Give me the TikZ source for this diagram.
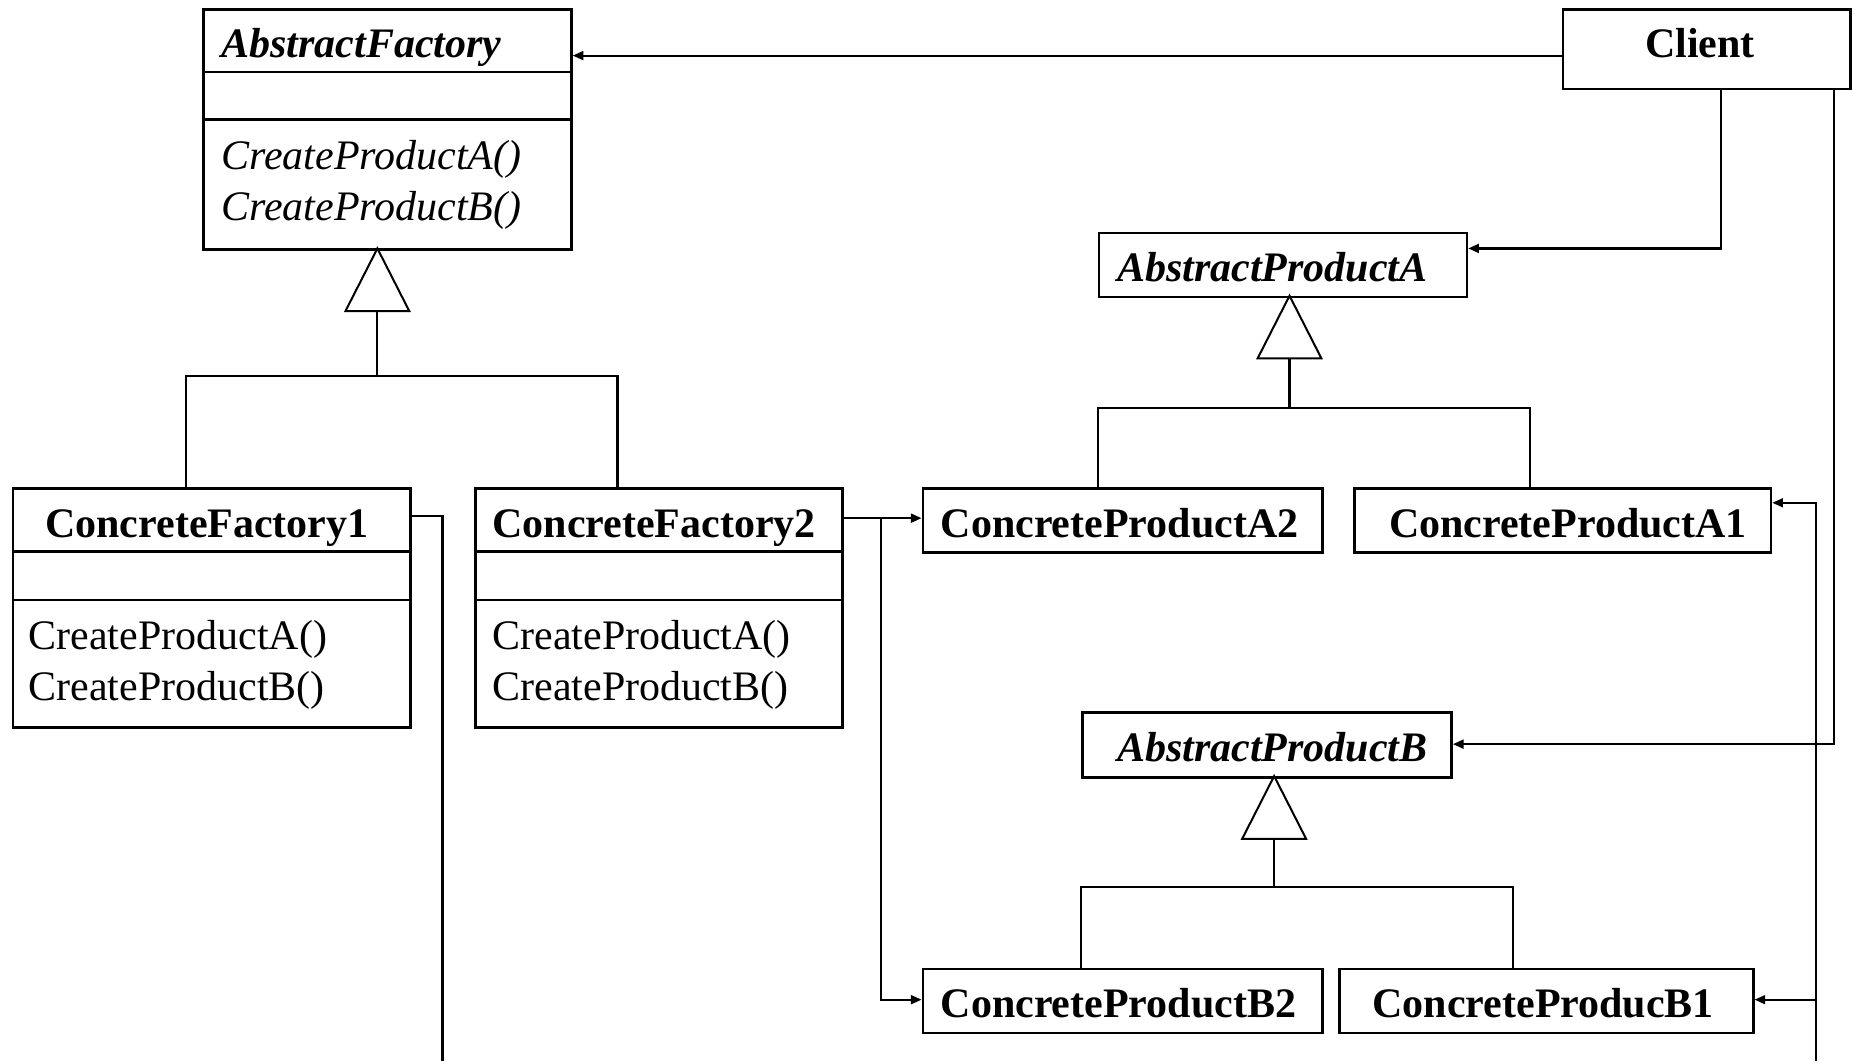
\documentclass[tikz,border=0pt]{standalone}
\usepackage{fontspec}
\setmainfont{Liberation Serif}
\usetikzlibrary{arrows.meta,calc}

\tikzset{
  box/.style={draw, line width=2.1pt, inner sep=0pt, anchor=north west, minimum width=#1},
  sep/.style={line width=2.1pt},
  wire/.style={line width=1.8pt},
  link/.style={wire, -{Triangle[length=9pt,width=7.5pt]}},
  gen/.style={line width=1.7pt, fill=white, line join=miter},
  txt/.style={inner sep=0pt, anchor=base west, font=\fontsize{35.5}{40}\selectfont},
  bold/.style={txt, font=\fontsize{35.5}{40}\selectfont\bfseries},
  bolditalic/.style={txt, font=\fontsize{35.5}{40}\selectfont\bfseries\itshape},
  ital/.style={txt, font=\fontsize{35.5}{40}\selectfont\itshape},
}

\begin{document}
\begin{tikzpicture}[x=1pt, y=-1pt]
\useasboundingbox (0,0) rectangle (1568,897);

% ---- class boxes ----
\node[box=311pt, minimum height=203pt] (af)   at (171,7)   {};
\node[box=243pt, minimum height=67pt]  (cl)   at (1320,7)  {};
\node[box=311pt, minimum height=54pt]  (apa)  at (928,196) {};
\node[box=336pt, minimum height=202pt] (cf1)  at (10,412)  {};
\node[box=310pt, minimum height=202pt] (cf2)  at (401,412) {};
\node[box=338pt, minimum height=54pt]  (cpa2) at (779,412) {};
\node[box=352pt, minimum height=54pt]  (cpa1) at (1144,412) {};
\node[box=312pt, minimum height=55pt]  (apb)  at (914,601) {};
\node[box=338pt, minimum height=54pt]  (cpb2) at (779,818) {};
\node[box=350pt, minimum height=54pt]  (cpb1) at (1131,818) {};

% compartment separators
\foreach \n/\a/\b in {af/61/101, cf1/466/507, cf2/466/507}{
  \draw[sep] (\n.west |- 0,\a) -- (\n.east |- 0,\a);
  \draw[sep] (\n.west |- 0,\b) -- (\n.east |- 0,\b);
}

% ---- texts ----
\node[bolditalic] (t-af)  at (187,49)  {AbstractFactory};
\node[ital]       (t-af1) at (187,143) {CreateProductA()};
\node[ital]       (t-af2) at (187,186) {CreateProductB()};
\node[bold, anchor=base] (t-cl) at (1437,49) {Client};
\node[bolditalic] (t-apa) at (944,238) {AbstractProductA};
\node[bold]       (t-cf1) at (38,454)  {ConcreteFactory1};
\node[txt]        (t-cf1a) at (24,549) {CreateProductA()};
\node[txt]        (t-cf1b) at (24,592) {CreateProductB()};
\node[bold]       (t-cf2) at (416,454) {ConcreteFactory2};
\node[txt]        (t-cf2a) at (416,549) {CreateProductA()};
\node[txt]        (t-cf2b) at (416,592) {CreateProductB()};
\node[bold]       (t-cpa2) at (795,454) {ConcreteProductA2};
\node[bold]       (t-cpa1) at (1174,454) {ConcreteProductA1};
\node[bolditalic] (t-apb) at (944,644)  {AbstractProductB};
\node[bold]       (t-cpb2) at (795,860) {ConcreteProductB2};
\node[bold]       (t-cpb1) at (1160,860) {ConcreteProducB1};

% ---- generalisation triangles ----
\coordinate (af-tip)  at (319,210);
\coordinate (apa-tip) at (1090,250);
\coordinate (apb-tip) at (1077,656);
\foreach \t in {af-tip, apa-tip, apb-tip}{
  \draw[gen] (\t) -- ++(-27,53) -- ++(54,0) -- cycle;
}
\coordinate (af-base)  at ($(af-tip)+(0,53)$);
\coordinate (apa-base) at ($(apa-tip)+(0,53)$);
\coordinate (apb-base) at ($(apb-tip)+(0,53)$);

% hierarchy bars
\coordinate (af-bar)  at (319,318);
\coordinate (apa-bar) at (1090,345);
\coordinate (apb-bar) at (1077,750);
\draw[wire] (af-base) -- (af-bar);
\draw[wire] (157,412) |- (522,318) -- (522,412);
\draw[wire] (apa-base) -- (apa-bar);
\draw[wire] (928,412) |- (1293,345) -- (1293,412);
\draw[wire] (apb-base) -- (apb-bar);
\draw[wire] (914,818) |- (1279,750) -- (1279,818);

% ---- associations from Client ----
\draw[link] (cl.west |- 0,47) -- (af.east |- 0,47);
\draw[link] (1455,74) |- (apa.east |- 0,210);
\draw[link] (1550,74) |- (apb.east |- 0,629);

% ---- ConcreteFactory2 creates A2 and B2 ----
\coordinate (cf2-out) at (745,438);
\draw[link] (cf2.east |- 0,438) -- (cpa2.west |- 0,438);
\draw[link] (cf2-out) |- (cpb2.west |- 0,845);

% ---- ConcreteFactory1 creates A1 and B1 ----
\coordinate (cf1-down) at (374,897);
\coordinate (cf1-up)   at (1535,897);
\draw[wire] (cf1.east |- 0,436) -| (cf1-down);
\draw[link] (cf1-up) |- (cpa1.east |- 0,425);
\draw[link] (1535,845) -- (cpb1.east |- 0,845);
\end{tikzpicture}
\end{document}
